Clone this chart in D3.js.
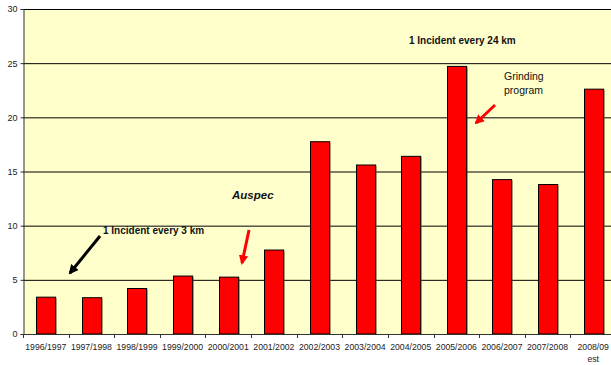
<!DOCTYPE html>
<html>
<head>
<meta charset="utf-8">
<script src="https://cdn.jsdelivr.net/npm/d3@7/dist/d3.min.js"></script>
<style>
  html, body { margin: 0; padding: 0; background: #fff; }
  svg { display: block; font-family: Arial, "Liberation Sans", sans-serif; }
</style>
</head>
<body>
<svg id="chart" width="611" height="365"></svg>
<script>
// Rail incidents per financial year
const years = ["1996/1997","1997/1998","1998/1999","1999/2000","2000/2001","2001/2002",
               "2002/2003","2003/2004","2004/2005","2005/2006","2006/2007","2007/2008","2008/09"];
const incidents = [3.4, 3.35, 4.2, 5.35, 5.25, 7.75, 17.75, 15.6, 16.4, 24.7, 14.25, 13.8, 22.6];
const yTicks = [0, 5, 10, 15, 20, 25, 30];

const svg = d3.select("#chart");
const m = { left: 23, top: 9, right: -5, bottom: 31 };
const W = 611, H = 365;

const x = d3.scaleBand().domain(years).range([m.left, W - m.right]).paddingInner(0.58).paddingOuter(0.29);
const xb = d3.scaleBand().domain(years).range([m.left, W - m.right]);
const y = d3.scaleLinear().domain([0, 30]).range([H - m.bottom, m.top]);

// plot background
svg.append("rect")
  .attr("x", m.left).attr("y", y(30))
  .attr("width", W - m.right - m.left).attr("height", y(0) - y(30))
  .attr("fill", "#ffffcc");

// horizontal gridlines
svg.append("g").selectAll("line").data(yTicks.filter(d => d > 0)).join("line")
  .attr("x1", m.left).attr("x2", W - m.right)
  .attr("y1", d => y(d) + 0.5).attr("y2", d => y(d) + 0.5)
  .attr("stroke", "#000").attr("stroke-width", 1);

// bar shadows
svg.append("g").selectAll("rect").data(incidents).join("rect")
  .attr("x", (d, i) => Math.round(x(years[i])) + 1.5)
  .attr("y", d => y(d) + 1)
  .attr("width", x.bandwidth())
  .attr("height", d => y(0) - y(d) - 1)
  .attr("fill", "#6b6b4a").attr("opacity", 0.7);

// bars
svg.append("g").selectAll("rect").data(incidents).join("rect")
  .attr("x", (d, i) => Math.round(x(years[i])) + 0.5)
  .attr("y", d => y(d))
  .attr("width", x.bandwidth())
  .attr("height", d => y(0) - y(d))
  .attr("fill", "#ff0000").attr("stroke", "#000").attr("stroke-width", 1);

// y axis
const yAxis = svg.append("g").attr("transform", `translate(${m.left + 0.5},0)`)
  .call(d3.axisLeft(y).tickValues(yTicks).tickSize(3).tickPadding(3));
yAxis.select(".domain").attr("stroke", "#333");
yAxis.selectAll(".tick line").attr("stroke", "#333");
yAxis.selectAll(".tick text").attr("font-size", "9px").attr("fill", "#222")
  .attr("font-family", "Arial, 'Liberation Sans', sans-serif");

// x axis baseline and ticks at band boundaries
svg.append("line").attr("x1", m.left).attr("x2", W).attr("y1", y(0) + 0.5).attr("y2", y(0) + 0.5)
  .attr("stroke", "#333");
svg.append("g").selectAll("line").data(years).join("line")
  .attr("x1", d => Math.round(xb(d)) + 0.5).attr("x2", d => Math.round(xb(d)) + 0.5)
  .attr("y1", y(0)).attr("y2", y(0) + 4)
  .attr("stroke", "#333");

// x labels
svg.append("g").selectAll("text").data(years).join("text")
  .attr("x", d => xb(d) + xb.bandwidth() / 2)
  .attr("y", y(0) + 16)
  .attr("text-anchor", "middle")
  .attr("font-size", "8.7px").attr("fill", "#222")
  .text(d => d);
svg.append("text")
  .attr("x", xb("2008/09") + xb.bandwidth() / 2).attr("y", y(0) + 28)
  .attr("text-anchor", "middle").attr("font-size", "8.7px").attr("fill", "#222")
  .text("est");

// arrowheads
const defs = svg.append("defs");
function marker(id, color) {
  defs.append("marker").attr("id", id)
    .attr("viewBox", "0 0 10 10").attr("refX", 8).attr("refY", 5)
    .attr("markerWidth", 3.2).attr("markerHeight", 3.2)
    .attr("markerUnits", "strokeWidth").attr("orient", "auto")
    .append("path").attr("d", "M0,0 L10,5 L0,10 z").attr("fill", color);
}
marker("ah-black", "#000");
marker("ah-red", "#ff0000");

function arrow(x1, y1, x2, y2, color, id, w) {
  svg.append("line").attr("x1", x1).attr("y1", y1).attr("x2", x2).attr("y2", y2)
    .attr("stroke", color).attr("stroke-width", w)
    .attr("marker-end", `url(#${id})`);
}

// annotations
svg.append("text").attr("x", 103).attr("y", 234)
  .attr("font-size", "10px").attr("font-weight", "bold").attr("fill", "#111")
  .text("1 Incident every 3 km");
arrow(100, 236, 70, 273, "#000", "ah-black", 3);

svg.append("text").attr("x", 232).attr("y", 199)
  .attr("font-size", "11.5px").attr("font-weight", "bold").attr("font-style", "italic").attr("fill", "#111")
  .text("Auspec");
arrow(249, 230, 242, 263, "#ff0000", "ah-red", 3);

svg.append("text").attr("x", 409).attr("y", 44)
  .attr("font-size", "10px").attr("font-weight", "bold").attr("fill", "#111")
  .text("1 Incident every 24 km");

svg.append("text").attr("x", 504).attr("y", 80)
  .attr("font-size", "10.5px").attr("fill", "#111")
  .selectAll("tspan").data(["Grinding", "program"]).join("tspan")
  .attr("x", 504).attr("dy", (d, i) => i ? 13.5 : 0).text(d => d);
arrow(495, 105, 476, 123, "#ff0000", "ah-red", 3);
</script>
</body>
</html>
